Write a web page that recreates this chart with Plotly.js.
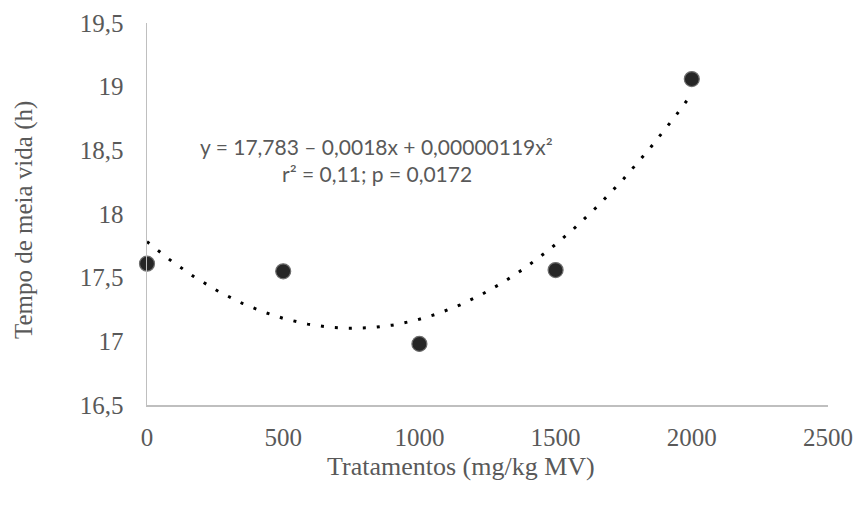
<!DOCTYPE html>
<html>
<head>
<meta charset="utf-8">
<script src="https://cdn.plot.ly/plotly-3.0.1.min.js"></script>
<style>html,body{margin:0;padding:0;background:#fff;}#chart{width:859px;height:506px;}</style>
</head>
<body>
<div id="chart"></div>
<script>
// Data
var treatments = [0, 500, 1000, 1500, 2000];
var halfLife = [17.61, 17.55, 16.98, 17.56, 19.06];
// Quadratic trendline coefficients as printed on the chart: y = a + b*x + c*x^2
var trendCoef = [17.783, -0.0018, 0.00000119];
var xTicks = [0, 500, 1000, 1500, 2000, 2500];
var yTicks = [16.5, 17, 17.5, 18, 18.5, 19, 19.5];
var yTickText = ['16,5', '17', '17,5', '18', '18,5', '19', '19,5'];
var eqLine1 = 'y = 17,783 – 0,0018x + 0,00000119x²';
var eqLine2 = 'r² = 0,11; p = 0,0172';
var xTitle = 'Tratamentos (mg/kg MV)';
var yTitle = 'Tempo de meia vida (h)';

var trendX = [], trendY = [];
var xMin = Math.min.apply(null, treatments), xMax = Math.max.apply(null, treatments);
for (var i = 0; i <= 200; i++) {
  var xv = xMin + (xMax - xMin) * i / 200;
  trendX.push(xv);
  trendY.push(trendCoef[0] + trendCoef[1] * xv + trendCoef[2] * xv * xv);
}

var grey = '#595959';
var serif = 'Liberation Serif, Times New Roman, serif';
var sans = 'Lato, sans-serif';

var traces = [
  {
    x: trendX, y: trendY, type: 'scatter', mode: 'lines',
    line: {color: '#000000', width: 3, dash: '3px,11px'},
    hoverinfo: 'skip', cliponaxis: false
  },
  {
    x: treatments, y: halfLife, type: 'scatter', mode: 'markers',
    marker: {size: 15, color: '#262626', line: {color: '#6e6e6e', width: 1.2}},
    cliponaxis: false
  }
];

var layout = {
  width: 859, height: 506,
  margin: {l: 147, r: 31, t: 23, b: 101},
  paper_bgcolor: '#ffffff', plot_bgcolor: '#ffffff',
  showlegend: false,
  separators: ', ',
  xaxis: {
    range: [0, 2500], tickvals: xTicks, ticks: '', showgrid: false, zeroline: false,
    showline: true, linecolor: '#bfbfbf', linewidth: 1.5,
    tickfont: {family: serif, size: 25, color: grey},
    ticklabelstandoff: 9
  },
  yaxis: {
    range: [16.5, 19.5], tickvals: yTicks, ticktext: yTickText, ticks: '', showgrid: false, zeroline: false,
    showline: true, linecolor: '#bfbfbf', linewidth: 1.5,
    tickfont: {family: serif, size: 25, color: grey},
    ticklabelstandoff: 17
  },
  annotations: [
    {x: 844, y: 18.53, xref: 'x', yref: 'y', text: eqLine1, showarrow: false,
     xanchor: 'center', yanchor: 'middle', font: {family: sans, size: 21, color: grey}},
    {x: 844, y: 18.315, xref: 'x', yref: 'y', text: eqLine2, showarrow: false,
     xanchor: 'center', yanchor: 'middle', font: {family: sans, size: 21, color: grey}},
    {x: 0.461, y: -0.162, xref: 'paper', yref: 'paper', text: xTitle, showarrow: false,
     xanchor: 'center', yanchor: 'middle', font: {family: serif, size: 26, color: grey}},
    {x: -0.1806, y: 0.484, xref: 'paper', yref: 'paper', text: yTitle, showarrow: false, textangle: -90,
     xanchor: 'center', yanchor: 'middle', font: {family: serif, size: 25, color: grey}}
  ]
};

Plotly.newPlot('chart', traces, layout, {displayModeBar: false, staticPlot: true});
</script>
</body>
</html>
